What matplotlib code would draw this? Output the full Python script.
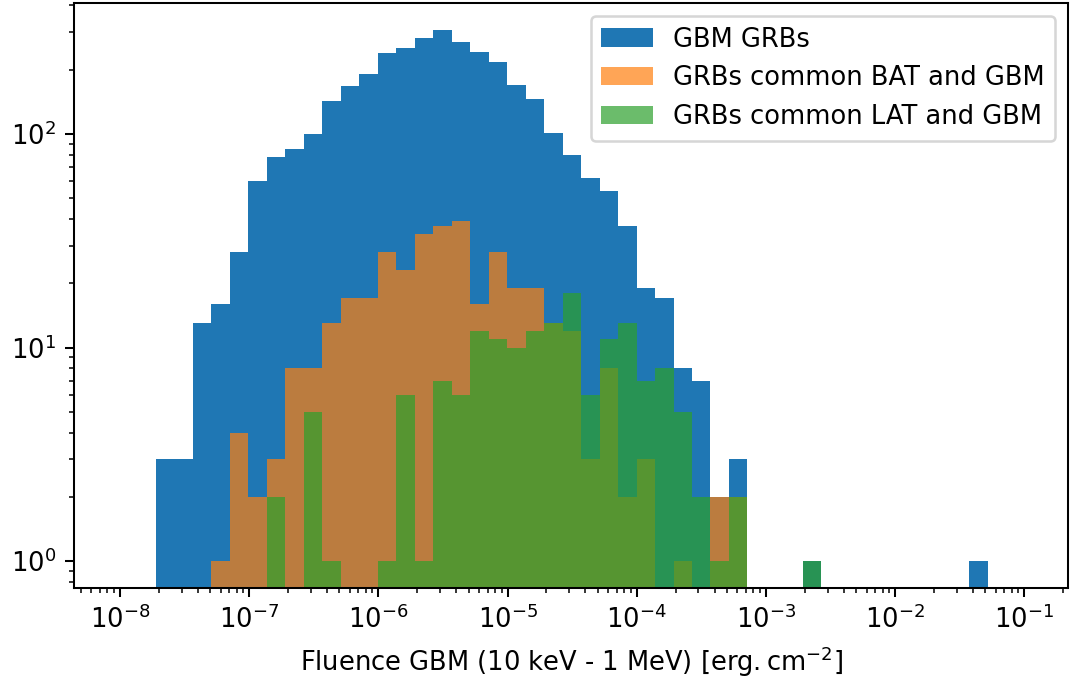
import numpy as np
import matplotlib
matplotlib.use("Agg")
import matplotlib.pyplot as plt

# counts per log bin (45 bins)
gbm_counts = [3, 3, 13, 16, 28, 60, 78, 85, 100, 143,
              167, 190, 238, 252, 281, 307, 269, 241, 217, 169,
              145, 101, 80, 62, 54, 37, 19, 17, 8, 7,
              2, 3, 0, 0, 0, 1, 0, 0, 0, 0,
              0, 0, 0, 0, 1]
bat_counts = [0, 0, 0, 1, 4, 2, 3, 8, 8, 13,
              17, 17, 28, 23, 34, 37, 39, 16, 28, 19,
              19, 13, 12, 3, 8, 2, 3, 0, 1, 0,
              2, 2, 0, 0, 0, 0, 0, 0, 0, 0,
              0, 0, 0, 0, 0]
lat_counts = [0, 0, 0, 0, 0, 0, 2, 0, 5, 1,
              0, 0, 1, 6, 1, 7, 6, 12, 11, 10,
              12, 13, 18, 6, 11, 13, 7, 8, 5, 2,
              1, 2, 0, 0, 0, 1, 0, 0, 0, 0,
              0, 0, 0, 0, 0]

labels = ["GBM GRBs", "GRBs common BAT and GBM", "GRBs common LAT and GBM"]

# log-spaced bins
log_lo = -7.721
log_w = 0.14305
n_bins = len(gbm_counts)
edges = np.logspace(log_lo, log_lo + n_bins * log_w, n_bins + 1)
centers = np.sqrt(edges[:-1] * edges[1:])

plt.rcParams["font.size"] = 10.1

dpi = 184
fig = plt.figure(figsize=(1070 / dpi, 676 / dpi), dpi=dpi)
ax = fig.add_axes([74 / 1070, 1 - 587.7 / 676, (1068.3 - 74) / 1070, (587.7 - 3.3) / 676])

ax.hist(centers, bins=edges, weights=gbm_counts, color="tab:blue", label=labels[0])
ax.hist(centers, bins=edges, weights=bat_counts, color="tab:orange", alpha=0.7, label=labels[1])
ax.hist(centers, bins=edges, weights=lat_counts, color="tab:green", alpha=0.7, label=labels[2])

ax.set_xscale("log")
ax.set_yscale("log")
ax.set_xlim(10 ** -8.356, 10 ** -0.660)
ax.set_ylim(10 ** -0.1244, 10 ** 2.6115)
ax.set_xlabel(r"Fluence GBM (10 keV - 1 MeV) [$\mathrm{erg.cm^{-2}}$]")
ax.legend(loc="upper right")

fig.savefig("out.png", dpi=dpi)
